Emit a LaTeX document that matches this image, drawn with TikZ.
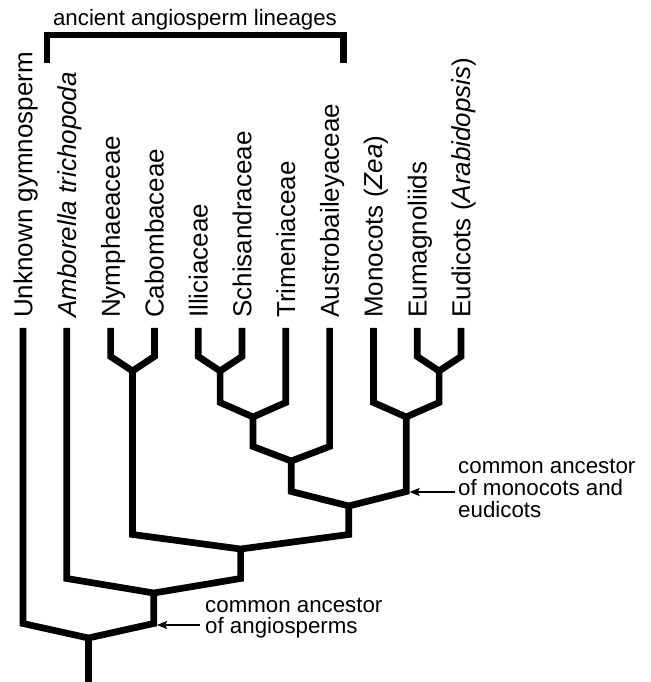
\documentclass[tikz,border=0pt]{standalone}
\usepackage{fontspec}
\setmainfont{Liberation Sans}
\usetikzlibrary{arrows.meta}
\tikzset{
  branch/.style={line width=6.7pt, line join=miter},
  leaf/.style={rotate=90, anchor=base west, inner sep=0pt, font=\fontsize{26}{31}\selectfont},
  note/.style={align=left, anchor=west, inner sep=0pt, font=\fontsize{22.3}{21.7}\selectfont},
  pointer/.style={->, >={Stealth[length=10pt,width=8pt,inset=2pt]}, line width=2pt, shorten >=3.4pt},
}
\begin{document}
\begin{tikzpicture}[x=1pt,y=1pt]
\useasboundingbox (0,0) rectangle (650,682);

\coordinate (unk) at (23,354);
\coordinate (amb) at (66.8,354);
\coordinate (nym) at (110.6,354);
\coordinate (cab) at (154.4,354);
\coordinate (ill) at (198.2,354);
\coordinate (sch) at (242,354);
\coordinate (tri) at (285.8,354);
\coordinate (aus) at (329.6,354);
\coordinate (mon) at (373.4,354);
\coordinate (eum) at (417.2,354);
\coordinate (eud) at (461,354);

\node[leaf] (unk-lbl) at (32.3,364) {Unknown gymnosperm};
\node[leaf] (amb-lbl) at (76.1,364) {\textit{Amborella trichopoda}};
\node[leaf] (nym-lbl) at (119.9,364) {Nymphaeaceae};
\node[leaf] (cab-lbl) at (163.7,364) {Cabombaceae};
\node[leaf] (ill-lbl) at (207.5,364) {Illiciaceae};
\node[leaf] (sch-lbl) at (251.3,364) {Schisandraceae};
\node[leaf] (tri-lbl) at (295.1,364) {Trimeniaceae};
\node[leaf] (aus-lbl) at (338.9,364) {Austrobaileyaceae};
\node[leaf] (mon-lbl) at (382.7,364) {Monocots (\textit{Zea})};
\node[leaf] (eum-lbl) at (426.5,364) {Eumagnoliids};
\node[leaf] (eud-lbl) at (470.3,364) {Eudicots (\textit{Arabidopsis})};

\coordinate (j1) at (132.5,311);  \coordinate (j1-up) at (132.5,325.5);
\coordinate (j2) at (220.1,311);  \coordinate (j2-up) at (220.1,325.5);
\coordinate (j3) at (439.1,311);  \coordinate (j3-up) at (439.1,325.5);
\coordinate (j4) at (253,265);    \coordinate (j4-up) at (253,279.5);
\coordinate (j5) at (406.2,265);  \coordinate (j5-up) at (406.2,279.5);
\coordinate (j6) at (291.3,221);  \coordinate (j6-up) at (291.3,235.5);
\coordinate (j7) at (348.8,176);  \coordinate (j7-up) at (348.8,190.5);
\coordinate (j8) at (240.6,133);  \coordinate (j8-up) at (240.6,147.5);
\coordinate (j9) at (153.7,89);   \coordinate (j9-up) at (153.7,103.5);
\coordinate (j10) at (88.4,44);   \coordinate (j10-up) at (88.4,58.5);
\coordinate (root) at (88.4,0);

\draw[branch] (nym) -- (nym |- j1-up) -- (j1) -- (cab |- j1-up) -- (cab);
\draw[branch] (ill) -- (ill |- j2-up) -- (j2) -- (sch |- j2-up) -- (sch);
\draw[branch] (eum) -- (eum |- j3-up) -- (j3) -- (eud |- j3-up) -- (eud);
\draw[branch] (j2) -- (j2 |- j4-up) -- (j4) -- (tri |- j4-up) -- (tri);
\draw[branch] (mon) -- (mon |- j5-up) -- (j5) -- (j3 |- j5-up) -- (j3);
\draw[branch] (j4) -- (j4 |- j6-up) -- (j6) -- (aus |- j6-up) -- (aus);
\draw[branch] (j6) -- (j6 |- j7-up) -- (j7) -- (j5 |- j7-up) -- (j5);
\draw[branch] (j1) -- (j1 |- j8-up) -- (j8) -- (j7 |- j8-up) -- (j7);
\draw[branch] (amb) -- (amb |- j9-up) -- (j9) -- (j8 |- j9-up) -- (j8);
\draw[branch] (unk) -- (unk |- j10-up) -- (j10) -- (j9 |- j10-up) -- (j9);
\draw[branch] (j10) -- (root);

\node[font=\fontsize{22.3}{26}\selectfont, anchor=base, inner sep=0pt] (lineages) at (195,656) {ancient angiosperm lineages};
\draw[branch] (47,619) -- (47,647) -- (343.5,647) -- (343.5,619);

\node[note] (angio) at (205,64) {common ancestor\\of angiosperms};
\node[note] (monoeu) at (458,193.5) {common ancestor\\of monocots and\\eudicots};
\coordinate (angio-in) at ([xshift=-5pt,yshift=-7pt]angio.west);
\coordinate (monoeu-in) at ([xshift=-3pt,yshift=-3.5pt]monoeu.west);
\draw[pointer] (angio-in) -- (angio-in -| j9);
\draw[pointer] (monoeu-in) -- (monoeu-in -| j5);
\end{tikzpicture}
\end{document}
